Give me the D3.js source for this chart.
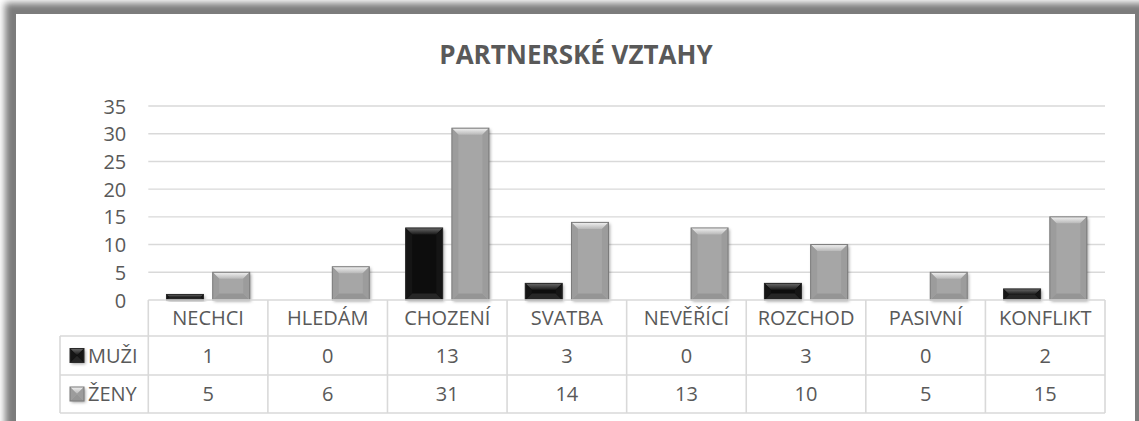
<!DOCTYPE html>
<html>
<head>
<meta charset="utf-8">
<script src="https://cdn.jsdelivr.net/npm/d3@7"></script>
<style>
  html, body { margin: 0; padding: 0; background: #fff; }
  svg { display: block; font-family: "Open Sans", "DejaVu Sans", sans-serif; }
</style>
</head>
<body>
<script>
// Partnerské vztahy – počty odpovědí podle kategorie a pohlaví
const categories = ["NECHCI", "HLEDÁM", "CHOZENÍ", "SVATBA", "NEVĚŘÍCÍ", "ROZCHOD", "PASIVNÍ", "KONFLIKT"];
const seriesNames = ["MUŽI", "ŽENY"];
const muzi = [1, 0, 13, 3, 0, 3, 0, 2];
const zeny = [5, 6, 31, 14, 13, 10, 5, 15];
const yTicks = [0, 5, 10, 15, 20, 25, 30, 35];
const title = "PARTNERSKÉ VZTAHY";

const W = 1139, H = 421;
const plot = { left: 148.3, right: 1105, top: 106, bottom: 300 };
const tableLeft = 60;
const rowLines = [300, 336, 375, 413];
const textColor = "#595959";
const gridColor = "#d9d9d9";

const svg = d3.select("body").append("svg").attr("width", W).attr("height", H);
const defs = svg.append("defs");

// chart frame shadow
defs.append("filter").attr("id", "frameBlur").attr("x", "-5%").attr("y", "-5%").attr("width", "110%").attr("height", "110%")
  .append("feGaussianBlur").attr("stdDeviation", 3.5);
const bs = defs.append("filter").attr("id", "barShadow").attr("x", "-30%").attr("y", "-30%").attr("width", "160%").attr("height", "160%");
bs.append("feDropShadow").attr("dx", 1.5).attr("dy", 1.5).attr("stdDeviation", 1.5).attr("flood-color", "#000").attr("flood-opacity", 0.35);

svg.append("rect").attr("x", 5).attr("y", 3).attr("width", W + 20).attr("height", H + 40)
  .attr("fill", "#7c7c7c").attr("filter", "url(#frameBlur)");
svg.append("rect").attr("x", 16).attr("y", 14).attr("width", 1119).attr("height", H).attr("fill", "#fff");

// bevel styles per series
const styles = {
  "MUŽI": { base: "#0b0b0b", stroke: "#2a2a2a", top: ["#6a6a6a", "#1a1a1a"], bottom: "#262626", left: "#151515", right: "#151515" },
  "ŽENY": { base: "#a6a6a6", stroke: "#7a7a7a", top: ["#f2f2f2", "#b8b8b8"], bottom: "#959595", left: "#9c9c9c", right: "#9c9c9c" }
};
seriesNames.forEach((s, i) => {
  const g = defs.append("linearGradient").attr("id", "topGrad" + i).attr("x1", 0).attr("y1", 0).attr("x2", 0).attr("y2", 1);
  g.append("stop").attr("offset", 0).attr("stop-color", styles[s].top[0]);
  g.append("stop").attr("offset", 1).attr("stop-color", styles[s].top[1]);
});

// scales
const x0 = d3.scaleBand().domain(categories).range([plot.left, plot.right]);
const step = x0.bandwidth();
const x1 = d3.scaleBand().domain(seriesNames).range([step * 0.152, step * 0.848]).paddingInner(0.2);
const y = d3.scaleLinear().domain([0, 35]).range([plot.bottom, plot.top]);

// gridlines
svg.append("g").selectAll("line").data(yTicks.slice(1)).join("line")
  .attr("x1", plot.left).attr("x2", plot.right)
  .attr("y1", d => y(d)).attr("y2", d => y(d))
  .attr("stroke", gridColor).attr("stroke-width", 1.4);

// y axis labels
const yAxis = d3.axisLeft(y).tickValues(yTicks).tickSize(0).tickPadding(0);
const ya = svg.append("g").attr("transform", `translate(${plot.left - 22},0)`).call(yAxis);
ya.select(".domain").remove();
ya.selectAll("text").attr("fill", textColor).style("font-size", "20px")
  .style("font-family", '"Open Sans", sans-serif').attr("dy", "0.35em");

// bevelled bars
function bevel(g, x, yTop, w, h, st, gi) {
  const b = Math.min(6.5, h / 2, w / 2);
  g.append("rect").attr("x", x).attr("y", yTop).attr("width", w).attr("height", h)
    .attr("fill", st.base).attr("filter", "url(#barShadow)");
  const x2 = x + w, y2 = yTop + h;
  const poly = (pts, fill) => g.append("polygon").attr("points", pts.map(p => p.join(",")).join(" ")).attr("fill", fill);
  poly([[x, yTop], [x2, yTop], [x2 - b, yTop + b], [x + b, yTop + b]], `url(#topGrad${gi})`);
  poly([[x, y2], [x2, y2], [x2 - b, y2 - b], [x + b, y2 - b]], st.bottom);
  poly([[x, yTop], [x + b, yTop + b], [x + b, y2 - b], [x, y2]], st.left);
  poly([[x2, yTop], [x2 - b, yTop + b], [x2 - b, y2 - b], [x2, y2]], st.right);
  g.append("rect").attr("x", x).attr("y", yTop).attr("width", w).attr("height", h)
    .attr("fill", "none").attr("stroke", st.stroke).attr("stroke-width", 1);
}
const values = { "MUŽI": muzi, "ŽENY": zeny };
const bars = svg.append("g");
categories.forEach((c, ci) => {
  seriesNames.forEach((s, si) => {
    const v = values[s][ci];
    if (v <= 0) return;
    const bx = x0(c) + x1(s);
    bevel(bars, bx, y(v), x1.bandwidth(), y(0) - y(v), styles[s], si);
  });
});

// data table
const table = svg.append("g");
const lineAttrs = sel => sel.attr("stroke", gridColor).attr("stroke-width", 1.6);
table.append("line").attr("x1", plot.left).attr("x2", plot.right).attr("y1", rowLines[0]).attr("y2", rowLines[0]).call(lineAttrs);
rowLines.slice(1).forEach(ry => table.append("line").attr("x1", tableLeft).attr("x2", plot.right).attr("y1", ry).attr("y2", ry).call(lineAttrs));
table.append("line").attr("x1", tableLeft).attr("x2", tableLeft).attr("y1", rowLines[1]).attr("y2", rowLines[3]).call(lineAttrs);
categories.concat([null]).forEach((c, i) => {
  const vx = c === null ? plot.right : x0(c);
  table.append("line").attr("x1", vx).attr("x2", vx).attr("y1", rowLines[0]).attr("y2", rowLines[3]).call(lineAttrs);
});
const cellText = (tx, ty, t, anchor) => table.append("text").attr("x", tx).attr("y", ty)
  .attr("text-anchor", anchor || "middle").attr("dy", "0.36em").attr("fill", textColor)
  .style("font-size", "20px").text(t);
const rowMid = i => (rowLines[i] + rowLines[i + 1]) / 2;
categories.forEach(c => cellText(x0(c) + step / 2, rowMid(0), c));
seriesNames.forEach((s, si) => {
  values[s].forEach((v, ci) => cellText(x0(categories[ci]) + step / 2, rowMid(si + 1), v));
  // legend key
  const ky = rowMid(si + 1) - 7;
  bevel(table, 70, ky, 14, 14, styles[s], si);
  cellText(88, rowMid(si + 1), s, "start");
});

// title
svg.append("text").attr("x", 576).attr("y", 64).attr("text-anchor", "middle")
  .attr("fill", textColor).style("font-size", "26px").style("font-weight", "bold").text(title);
</script>
</body>
</html>
